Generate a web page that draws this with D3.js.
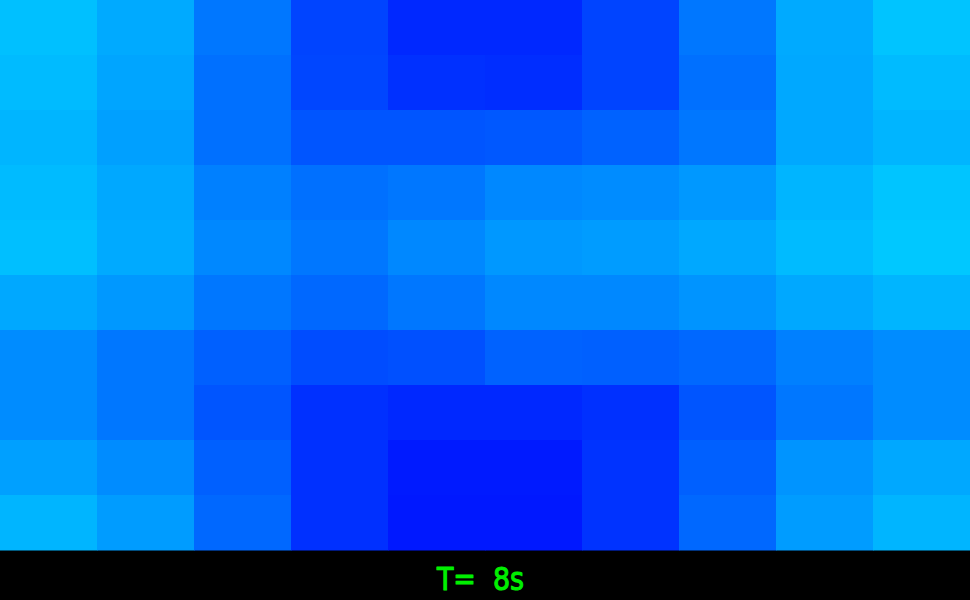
<!DOCTYPE html>
<html>
<head>
<meta charset="utf-8">
<script src="https://cdn.jsdelivr.net/npm/d3@7"></script>
<style>
  body { margin: 0; background: #000; }
  svg { display: block; }
</style>
</head>
<body>
<svg id="chart" width="970" height="600"></svg>
<script>
// grid columns / rows
const cols = [0,1,2,3,4,5,6,7,8,9];
const rows = [0,1,2,3,4,5,6,7,8,9];
// cell values (green channel level, 0..255), one array per row
const row0 = [192,170,119, 68, 40, 40, 68,119,170,196];
const row1 = [187,165,112, 70, 48, 45, 68,112,168,187];
const row2 = [181,160,112, 85, 85, 88, 98,119,168,181];
const row3 = [187,168,128,112,119,136,140,152,181,197];
const row4 = [191,170,136,119,136,152,156,168,187,200];
const row5 = [168,152,119,104,119,136,136,148,168,181];
const row6 = [140,119, 96, 76, 80, 98, 96,104,128,140];
const row7 = [140,119, 85, 48, 40, 40, 48, 85,119,140];
const row8 = [160,140, 96, 48, 26, 26, 51, 96,148,168];
const row9 = [181,156,104, 48, 24, 24, 51,104,156,181];
const grid = [row0,row1,row2,row3,row4,row5,row6,row7,row8,row9];
const label = "T=  8s";

var W = 970, H = 550;
var svg = d3.select('#chart');

var x = d3.scaleBand().domain(cols).range([0, W]);
var y = d3.scaleBand().domain(rows).range([0, H]);
var color = d3.scaleLinear().domain([0, 255]).range(['#0000ff', '#00ffff']);

var cells = [];
grid.forEach((r, i) => r.forEach((v, j) => cells.push({row: rows[i], col: cols[j], v: v})));

svg.append('rect')
  .attr('x', 0).attr('y', 0)
  .attr('width', 970).attr('height', 600)
  .style('fill', '#000');

svg.append('g')
  .selectAll('rect')
  .data(cells)
  .enter()
  .append('rect')
  .attr('x', d => x(d.col))
  .attr('y', d => y(d.row))
  .attr('width', x.bandwidth() + 0.5)
  .attr('height', y.bandwidth() + 0.5)
  .style('fill', d => color(d.v));

// caption, squeezed a bit horizontally to look like the thin stroke font
svg.append('g')
  .attr('transform', 'translate(480.5,590) scale(0.84,1)')
  .append('text')
  .attr('x', 0)
  .attr('y', 0)
  .attr('text-anchor', 'middle')
  .style('white-space', 'pre')
  .style('font-family', '"DejaVu Sans", sans-serif')
  .style('font-size', '32px')
  .style('fill', '#00f000')
  .style('stroke', '#00f000')
  .style('stroke-width', 1.1)
  .style('stroke-linejoin', 'round')
  .text(label);
</script>
</body>
</html>
